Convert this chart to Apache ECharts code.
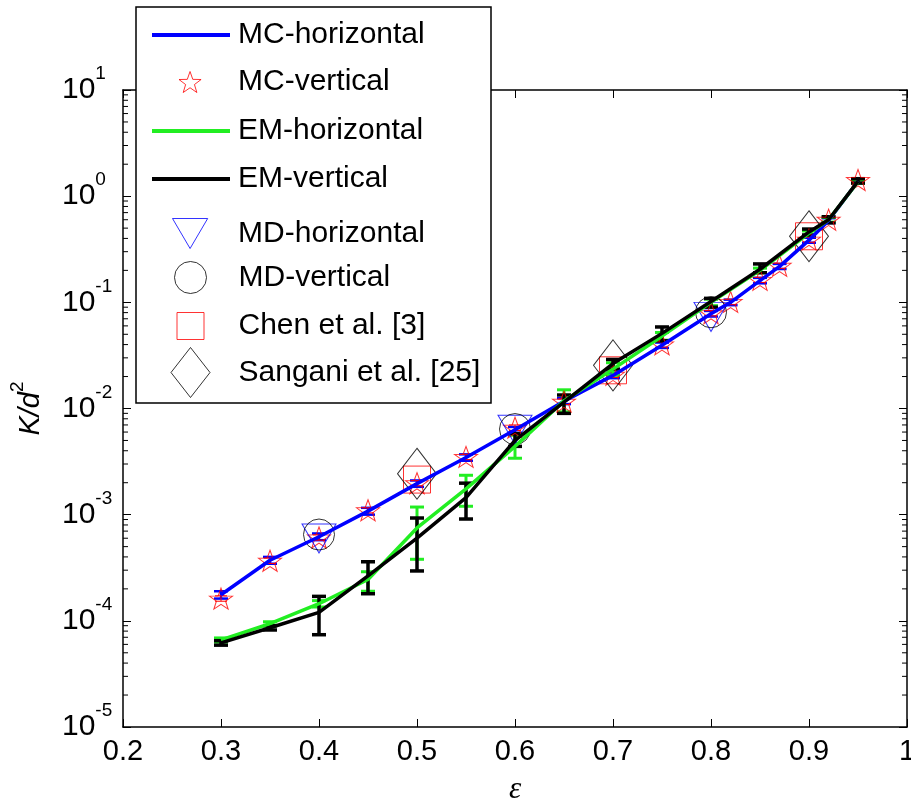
<!DOCTYPE html>
<html>
<head>
<meta charset="utf-8">
<script src="https://cdn.jsdelivr.net/npm/echarts@6/dist/echarts.min.js"></script>
<style>
  html, body { margin: 0; padding: 0; background: #fff; }
  #chart { width: 911px; height: 803px; }
</style>
</head>
<body>
<div id="chart"></div>
<script>
// Porosity (epsilon) vs. dimensionless permeability K/d^2

// MC simulations
const mcX = [0.3, 0.35, 0.4, 0.45, 0.5, 0.55, 0.6, 0.65, 0.7, 0.75, 0.8, 0.82, 0.85, 0.87, 0.9, 0.92, 0.95];
const mcHorizontal = [1.76e-4, 3.72e-4, 6.2e-4, 1.08e-3, 1.96e-3, 3.45e-3, 6.3e-3, 0.0117, 0.0205, 0.0395, 0.078, 0.100, 0.160, 0.218, 0.385, 0.59, 1.38];
const mcHorizontalLow = [1.62e-4, 3.45e-4, 5.75e-4, 1.00e-3, 1.83e-3, 3.22e-3, 5.9e-3, 0.0110, 0.0193, 0.0372, 0.0735, 0.094, 0.151, 0.206, 0.364, 0.56, 1.31];
const mcHorizontalHigh = [1.90e-4, 4.00e-4, 6.65e-4, 1.16e-3, 2.10e-3, 3.70e-3, 6.7e-3, 0.0125, 0.0218, 0.0418, 0.083, 0.106, 0.170, 0.230, 0.406, 0.62, 1.45];
const mcVertical = [1.62e-4, 3.68e-4, 6.1e-4, 1.10e-3, 1.98e-3, 3.50e-3, 6.6e-3, 0.0116, 0.0208, 0.0402, 0.079, 0.101, 0.163, 0.221, 0.390, 0.60, 1.42];
const mcVerticalLow = [1.53e-4, 3.47e-4, 5.75e-4, 1.04e-3, 1.87e-3, 3.30e-3, 6.2e-3, 0.0109, 0.0196, 0.0379, 0.0745, 0.095, 0.154, 0.209, 0.368, 0.566, 1.34];
const mcVerticalHigh = [1.72e-4, 3.90e-4, 6.45e-4, 1.16e-3, 2.09e-3, 3.70e-3, 7.0e-3, 0.0123, 0.0220, 0.0426, 0.0835, 0.107, 0.172, 0.234, 0.412, 0.634, 1.50];

// EM simulations
const emX = [0.3, 0.35, 0.4, 0.45, 0.5, 0.55, 0.6, 0.65, 0.7, 0.75, 0.8, 0.85, 0.9, 0.92, 0.95];
const emHorizontal = [6.6e-5, 9.4e-5, 1.45e-4, 2.45e-4, 7.5e-4, 1.75e-3, 4.4e-3, 0.0118, 0.0235, 0.048, 0.100, 0.200, 0.450, 0.600, 1.37];
const emHorizontalLow = [6.3e-5, 9.0e-5, 1.35e-4, 1.9e-4, 3.8e-4, 1.2e-3, 3.4e-3, 0.0093, 0.0205, 0.044, 0.093, 0.190, 0.430, 0.570, 1.32];
const emHorizontalHigh = [6.9e-5, 9.8e-5, 1.55e-4, 2.9e-4, 1.18e-3, 2.35e-3, 5.6e-3, 0.0150, 0.0270, 0.052, 0.107, 0.210, 0.470, 0.630, 1.42];
const emVertical = [6.2e-5, 8.6e-5, 1.2e-4, 2.65e-4, 6.0e-4, 1.45e-3, 5.0e-3, 0.0115, 0.0265, 0.051, 0.102, 0.205, 0.460, 0.600, 1.38];
const emVerticalLow = [5.9e-5, 8.2e-5, 7.4e-5, 1.8e-4, 2.95e-4, 9.1e-4, 4.4e-3, 0.0090, 0.0235, 0.0434, 0.090, 0.190, 0.430, 0.560, 1.33];
const emVerticalHigh = [6.5e-5, 9.0e-5, 1.7e-4, 3.6e-4, 9.3e-4, 1.98e-3, 5.8e-3, 0.0134, 0.0290, 0.0586, 0.109, 0.230, 0.490, 0.640, 1.46];

// MD simulations
const mdX = [0.4, 0.6, 0.8];
const mdHorizontal = [5.97e-4, 6.3e-3, 0.073];
const mdVertical = [6.5e-4, 6.4e-3, 0.0807];

// Literature values
const refX = [0.5, 0.7, 0.9];
const chen = [2.14e-3, 0.0229, 0.419];
const sangani = [2.43e-3, 0.0255, 0.419];

// Axis ticks
const xTicks = { min: 0.2, max: 1.0, step: 0.1 };
const yDecades = { min: 1e-5, max: 10 };
const yMinorTicks = [];
for (let e = -5; e < 1; e++) {
  for (let m = 2; m <= 9; m++) yMinorTicks.push(m * Math.pow(10, e));
}

const SANS = 'Liberation Sans, Arial, sans-serif';
const SERIF = 'Liberation Serif, Times New Roman, serif';
const STAR = 'path://M0,-10 L2.35,-3.24 L9.51,-3.09 L3.8,1.24 L5.88,8.09 L0,4 L-5.88,8.09 L-3.8,1.24 L-9.51,-3.09 L-2.35,-3.24 Z';
const DOWN_TRI = 'path://M0,0 L34,0 L17,29 Z';

const pairs = (xs, ys) => xs.map((x, i) => [x, ys[i]]);
const triples = (xs, lo, hi) => xs.map((x, i) => [x, lo[i], hi[i]]);

function errorBars(color, capHalf, lineWidth) {
  return function (params, api) {
    const x = api.value(0);
    const lo = api.coord([x, api.value(1)]);
    const hi = api.coord([x, api.value(2)]);
    const st = { stroke: color, lineWidth: lineWidth, fill: null };
    return {
      type: 'group',
      children: [
        { type: 'line', shape: { x1: lo[0], y1: lo[1], x2: hi[0], y2: hi[1] }, style: st },
        { type: 'line', shape: { x1: lo[0] - capHalf, y1: lo[1], x2: lo[0] + capHalf, y2: lo[1] }, style: st },
        { type: 'line', shape: { x1: hi[0] - capHalf, y1: hi[1], x2: hi[0] + capHalf, y2: hi[1] }, style: st }
      ]
    };
  };
}

function errorSeries(name, xs, lo, hi, color, capHalf, lw) {
  return {
    name: name, type: 'custom', silent: true,
    data: triples(xs, lo, hi),
    encode: { x: 0, y: [1, 2] },
    renderItem: errorBars(color, capHalf, lw)
  };
}

// minor ticks (2..9 per decade) on left and right frame edges
const minorTickSeries = {
  type: 'custom', silent: true, clip: false,
  data: yMinorTicks.map(v => [xTicks.min, v]),
  encode: { x: 0, y: 1 },
  renderItem: function (params, api) {
    const v = api.value(1);
    const l = api.coord([xTicks.min, v]);
    const r = api.coord([xTicks.max, v]);
    const st = { stroke: '#000', lineWidth: 1 };
    return {
      type: 'group',
      children: [
        { type: 'line', shape: { x1: l[0], y1: l[1], x2: l[0] + 5, y2: l[1] }, style: st },
        { type: 'line', shape: { x1: r[0], y1: r[1], x2: r[0] - 5, y2: r[1] }, style: st }
      ]
    };
  }
};

// legend rows: icon centre, icon box, text column starts at x = 238
const LEGEND_TEXT_X = 238;
const LEGEND_FONT = 30;
const legendRows = [
  { name: 'MC-horizontal', cx: 191, cy: 35, w: 78, h: 4, icon: 'rect', style: { color: '#0000ff' } },
  { name: 'MC-vertical', cx: 190, cy: 82, w: 23, h: 21, icon: STAR, style: { color: 'transparent', borderColor: '#ff0000', borderWidth: 1 } },
  { name: 'EM-horizontal', cx: 191, cy: 131, w: 78, h: 4, icon: 'rect', style: { color: '#22ee22' } },
  { name: 'EM-vertical', cx: 191, cy: 179, w: 78, h: 4, icon: 'rect', style: { color: '#000' } },
  { name: 'MD-horizontal', cx: 190, cy: 233, w: 36, h: 30, icon: DOWN_TRI, style: { color: 'transparent', borderColor: '#0000ff', borderWidth: 1 } },
  { name: 'MD-vertical', cx: 190, cy: 277, w: 32, h: 32, icon: 'circle', style: { color: 'transparent', borderColor: '#000', borderWidth: 1 } },
  { name: 'Chen et al. [3]', cx: 190, cy: 326, w: 27, h: 27, icon: 'rect', style: { color: 'transparent', borderColor: '#ff0000', borderWidth: 1 } },
  { name: 'Sangani et al. [25]', cx: 190, cy: 372, w: 39, h: 50, icon: 'diamond', style: { color: 'transparent', borderColor: '#000', borderWidth: 1 } }
];

const legends = legendRows.map(r => {
  const left = r.cx - r.w / 2;
  const boxH = Math.max(r.h, LEGEND_FONT);
  return {
    data: [{ name: r.name, icon: r.icon, itemStyle: r.style }],
    left: left, top: r.cy - boxH / 2,
    itemWidth: r.w, itemHeight: r.h,
    padding: 0, selectedMode: false, z: 10,
    textStyle: {
      fontFamily: SANS, fontSize: LEGEND_FONT, color: '#000',
      padding: [0, 0, 0, LEGEND_TEXT_X - (left + r.w + 5)]
    }
  };
});

const axisLine = { show: true, lineStyle: { color: '#000', width: 1.5 } };
const tick = { show: true, inside: true, length: 8, lineStyle: { color: '#000', width: 1 } };

const option = {
  animation: false,
  backgroundColor: '#fff',
  grid: { left: 123, right: 4, top: 90, bottom: 76, containLabel: false, outerBoundsMode: 'none' },
  legend: legends,
  graphic: [{
    type: 'rect', z: 5,
    shape: { x: 136, y: 7, width: 355, height: 396 },
    style: { fill: '#fff', stroke: '#000', lineWidth: 1.5 }
  }],
  xAxis: [{
    type: 'value', min: xTicks.min, max: xTicks.max, interval: xTicks.step,
    position: 'bottom',
    axisLine: axisLine, axisTick: tick, splitLine: { show: false },
    axisLabel: {
      margin: 10, color: '#000', fontFamily: SANS, fontSize: 29,
      formatter: v => (Math.abs(v - 1) < 1e-9 ? '1' : v.toFixed(1))
    },
    name: 'ε', nameLocation: 'middle', nameGap: 47,
    nameTextStyle: { fontFamily: SERIF, fontStyle: 'italic', fontSize: 31, color: '#000' }
  }, {
    type: 'value', min: xTicks.min, max: xTicks.max, interval: xTicks.step,
    position: 'top',
    axisLine: axisLine, axisTick: tick, splitLine: { show: false },
    axisLabel: { show: false }
  }],
  yAxis: [{
    type: 'log', logBase: 10, min: yDecades.min, max: yDecades.max, splitNumber: 6,
    position: 'left',
    axisLine: axisLine, axisTick: tick, splitLine: { show: false },
    axisLabel: {
      align: 'left', margin: 61, color: '#000',
      formatter: v => '{b|10}{s|' + Math.round(Math.log10(v)) + '}',
      rich: {
        b: { fontFamily: SANS, fontSize: 30, color: '#000' },
        s: { fontFamily: SANS, fontSize: 19, color: '#000', padding: [0, 0, 32, 0] }
      }
    },
    name: '{i|K/d}{s|2}', nameLocation: 'middle', nameGap: 70, nameRotate: 90,
    nameTextStyle: {
      rich: {
        i: { fontFamily: SANS, fontStyle: 'italic', fontSize: 29, color: '#000' },
        s: { fontFamily: SANS, fontSize: 19, color: '#000', padding: [0, 0, 26, 0] }
      }
    }
  }, {
    type: 'log', logBase: 10, min: yDecades.min, max: yDecades.max, splitNumber: 6,
    position: 'right',
    axisLine: axisLine, axisTick: tick, splitLine: { show: false },
    axisLabel: { show: false }
  }],
  series: [
    minorTickSeries,
    {
      name: 'MC-horizontal', type: 'line', symbol: 'none',
      data: pairs(mcX, mcHorizontal),
      lineStyle: { color: '#0000ff', width: 3.5 }, itemStyle: { color: '#0000ff' }
    },
    errorSeries('MC-horizontal error', mcX, mcHorizontalLow, mcHorizontalHigh, '#0000ff', 7, 2.5),
    errorSeries('MC-vertical error', mcX, mcVerticalLow, mcVerticalHigh, '#ff0000', 6, 1),
    {
      name: 'MC-vertical', type: 'scatter', symbol: STAR, symbolSize: [23, 21],
      data: pairs(mcX, mcVertical),
      itemStyle: { color: 'transparent', borderColor: '#ff0000', borderWidth: 1 }
    },
    {
      name: 'EM-horizontal', type: 'line', symbol: 'none',
      data: pairs(emX, emHorizontal),
      lineStyle: { color: '#22ee22', width: 3.5 }, itemStyle: { color: '#22ee22' }
    },
    errorSeries('EM-horizontal error', emX, emHorizontalLow, emHorizontalHigh, '#22ee22', 7, 3),
    {
      name: 'EM-vertical', type: 'line', symbol: 'none',
      data: pairs(emX, emVertical),
      lineStyle: { color: '#000', width: 3.5 }, itemStyle: { color: '#000' }
    },
    errorSeries('EM-vertical error', emX, emVerticalLow, emVerticalHigh, '#000', 7, 3.5),
    {
      name: 'MD-horizontal', type: 'scatter', symbol: DOWN_TRI, symbolSize: [34, 29],
      data: pairs(mdX, mdHorizontal),
      itemStyle: { color: 'transparent', borderColor: '#0000ff', borderWidth: 1 }
    },
    {
      name: 'MD-vertical', type: 'scatter', symbol: 'circle', symbolSize: 31,
      data: pairs(mdX, mdVertical),
      itemStyle: { color: 'transparent', borderColor: '#000', borderWidth: 1 }
    },
    {
      name: 'Chen et al. [3]', type: 'scatter', symbol: 'rect', symbolSize: 27,
      data: pairs(refX, chen),
      itemStyle: { color: 'transparent', borderColor: '#ff0000', borderWidth: 1 }
    },
    {
      name: 'Sangani et al. [25]', type: 'scatter', symbol: 'diamond', symbolSize: [39, 51],
      data: pairs(refX, sangani),
      itemStyle: { color: 'transparent', borderColor: '#000', borderWidth: 1 }
    }
  ]
};

const chart = echarts.init(document.getElementById('chart'), null, { renderer: 'canvas' });
chart.setOption(option);
</script>
</body>
</html>
